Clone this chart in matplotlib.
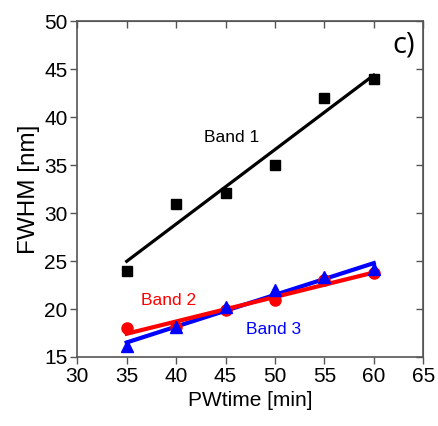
import matplotlib
matplotlib.use("Agg")
import matplotlib.pyplot as plt
import numpy as np

# PW time [min]
pw_time = [35, 40, 45, 50, 55, 60]

# FWHM [nm] per band
band1 = [24.0, 31.0, 32.1, 35.0, 42.0, 44.0]
band2 = [18.0, 18.1, 19.9, 20.9, 23.0, 23.8]
band3 = [16.1, 18.1, 20.2, 22.0, 23.3, 24.2]

x_ticks = [30, 35, 40, 45, 50, 55, 60, 65]
y_ticks = [15, 20, 25, 30, 35, 40, 45, 50]

plt.rcParams["font.family"] = ["Liberation Sans", "DejaVu Sans"]

fig = plt.figure(figsize=(4.39, 4.26), dpi=100)
ax = fig.add_axes([0.176, 0.162, 0.788, 0.788])

x = np.array(pw_time, dtype=float)


def fit_line(y):
    k, b = np.polyfit(x, np.array(y), 1)
    return k * x + b


axis_grey = "#555555"

# band 3 (blue), band 2 (red), band 1 (black)
ax.plot(x, fit_line(band3), color="#0000ff", lw=3.0, zorder=2)
ax.plot(x, fit_line(band2), color="#ff0000", lw=3.0, zorder=3)
ax.plot(x, fit_line(band1), color="black", lw=2.3, zorder=2)

ax.plot(x, band2, "o", color="#ff0000", ms=8, zorder=4)
ax.plot(x, band3, "^", color="#0000ff", ms=9, zorder=4)
ax.plot(x, band1, "s", color="black", ms=7.5, zorder=4)

ax.text(45.6, 37.9, "Band 1", color="black", fontsize=12.5, ha="center", va="center")
ax.text(39.2, 20.9, "Band 2", color="#ff0000", fontsize=12.5, ha="center", va="center")
ax.text(49.9, 17.9, "Band 3", color="#0000ff", fontsize=12.5, ha="center", va="center")
ax.text(0.945, 0.93, "c)", transform=ax.transAxes, fontsize=21, ha="center",
        va="center", family=["Open Sans", "DejaVu Sans"])

ax.set_xlim(30, 65)
ax.set_ylim(15, 50)
ax.set_xticks(x_ticks)
ax.set_yticks(y_ticks)
ax.tick_params(direction="out", length=5, width=1, color=axis_grey,
               labelsize=15, pad=2)
for sp in ax.spines.values():
    sp.set_color(axis_grey)
    sp.set_linewidth(1.2)

# inward ticks on top and right
top = ax.secondary_xaxis("top")
top.set_xticks(x_ticks)
top.tick_params(direction="in", length=5, width=1, color=axis_grey, labeltop=False)
top.spines["top"].set_color(axis_grey)
right = ax.secondary_yaxis("right")
right.set_yticks(y_ticks)
right.tick_params(direction="in", length=5, width=1, color=axis_grey, labelright=False)
right.spines["right"].set_color(axis_grey)

ax.set_xlabel("PWtime [min]", fontsize=15, labelpad=4)
ax.set_ylabel("FWHM [nm]", fontsize=17.5, labelpad=3)

fig.savefig("out.png", dpi=100)
